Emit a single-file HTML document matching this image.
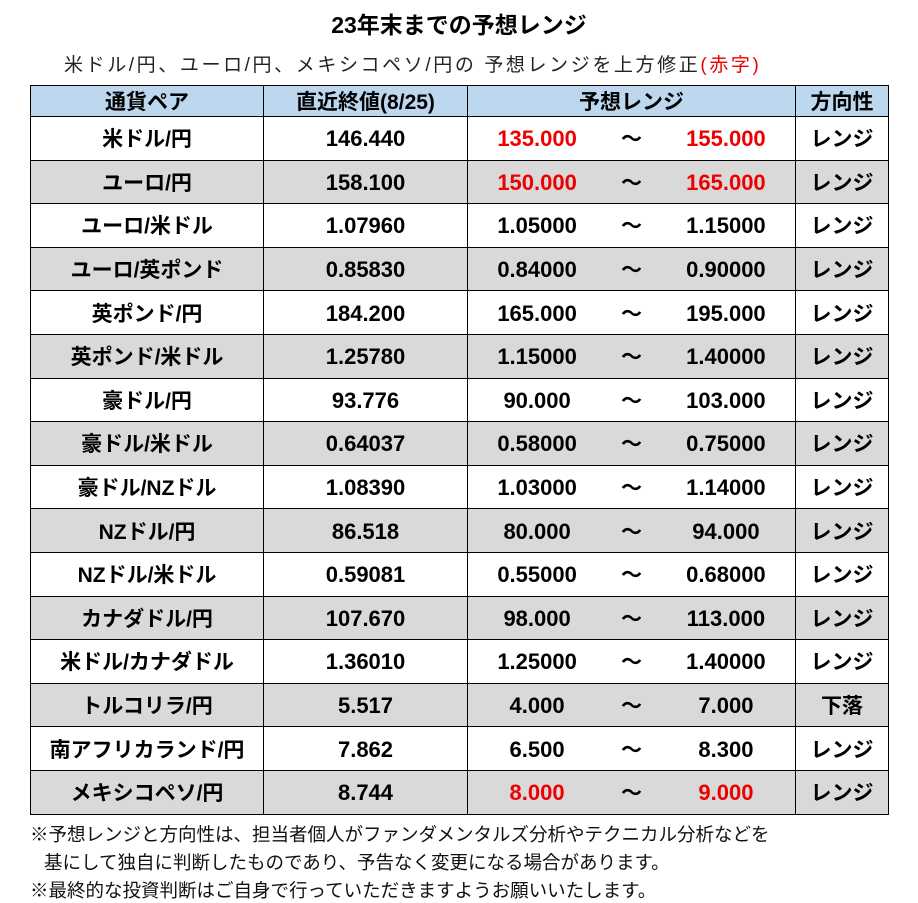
<!DOCTYPE html>
<html><head><meta charset="utf-8"><style>
body{margin:0;width:918px;height:903px;background:#fff;font-family:"Liberation Sans","Noto Sans CJK JP",sans-serif;position:relative;overflow:hidden}
.title{position:absolute;left:0;width:918px;top:6px;text-align:center;font-weight:bold;font-size:23px}
.sub{position:absolute;left:64px;top:50px;font-size:19px;color:#222;white-space:nowrap;letter-spacing:2.6px}
.sub span{color:#e00}
table{position:absolute;left:30px;top:85px;border-collapse:collapse;table-layout:fixed;width:858px}
td,th{border:1.5px solid #000;padding:0;text-align:center;font-weight:bold;font-size:21px;white-space:nowrap;vertical-align:middle}
th{background:#bdd7ee;height:29px}
td{height:42.6px}
tr.g td{background:#d9d9d9}
.n{font-size:22px;position:relative;top:1px}
.rng{display:flex;align-items:center}
.rng .a{width:150px;text-align:center}
.rng .t{width:55px;text-align:center}
.rng .b{width:150px;text-align:center}
.red{color:#e00}
.note{position:absolute;left:30px;font-size:18.5px;white-space:nowrap;color:#111}
</style></head><body>
<div class="title">23年末までの予想レンジ</div>
<div class="sub">米ドル/円、ユーロ/円、メキシコペソ/円の 予想レンジを上方修正<span>(赤字)</span></div>
<table>
<colgroup><col style="width:233px"><col style="width:204px"><col style="width:328px"><col style="width:93px"></colgroup>
<thead><tr><th>通貨ペア</th><th>直近終値(8/25)</th><th>予想レンジ</th><th>方向性</th></tr></thead>
<tbody id="tb"></tbody>
</table>
<div class="note" style="top:821px">※予想レンジと方向性は、担当者個人がファンダメンタルズ分析やテクニカル分析などを</div>
<div class="note" style="top:849px;left:44px">基にして独自に判断したものであり、予告なく変更になる場合があります。</div>
<div class="note" style="top:877px">※最終的な投資判断はご自身で行っていただきますようお願いいたします。</div>
<script>
const pairs=["米ドル/円","ユーロ/円","ユーロ/米ドル","ユーロ/英ポンド","英ポンド/円","英ポンド/米ドル","豪ドル/円","豪ドル/米ドル","豪ドル/NZドル","NZドル/円","NZドル/米ドル","カナダドル/円","米ドル/カナダドル","トルコリラ/円","南アフリカランド/円","メキシコペソ/円"];
const closes=["146.440","158.100","1.07960","0.85830","184.200","1.25780","93.776","0.64037","1.08390","86.518","0.59081","107.670","1.36010","5.517","7.862","8.744"];
const lows=["135.000","150.000","1.05000","0.84000","165.000","1.15000","90.000","0.58000","1.03000","80.000","0.55000","98.000","1.25000","4.000","6.500","8.000"];
const highs=["155.000","165.000","1.15000","0.90000","195.000","1.40000","103.000","0.75000","1.14000","94.000","0.68000","113.000","1.40000","7.000","8.300","9.000"];
const dirs=["レンジ","レンジ","レンジ","レンジ","レンジ","レンジ","レンジ","レンジ","レンジ","レンジ","レンジ","レンジ","レンジ","下落","レンジ","レンジ"];
const revised=[true,true,false,false,false,false,false,false,false,false,false,false,false,false,false,true];
const tb=document.getElementById('tb');
pairs.forEach((p,i)=>{
  const tr=document.createElement('tr');
  
  
  if(i%2===1)tr.className='g';
  const c=revised[i]?' red':'';
  tr.innerHTML='<td>'+p+'</td><td><span class="n">'+closes[i]+'</span></td><td><div class="rng"><span class="a n'+c+'">'+lows[i]+'</span><span class="t">～</span><span class="b n'+c+'">'+highs[i]+'</span></div></td><td>'+dirs[i]+'</td>';
  tb.appendChild(tr);
});
</script>
</body></html>
